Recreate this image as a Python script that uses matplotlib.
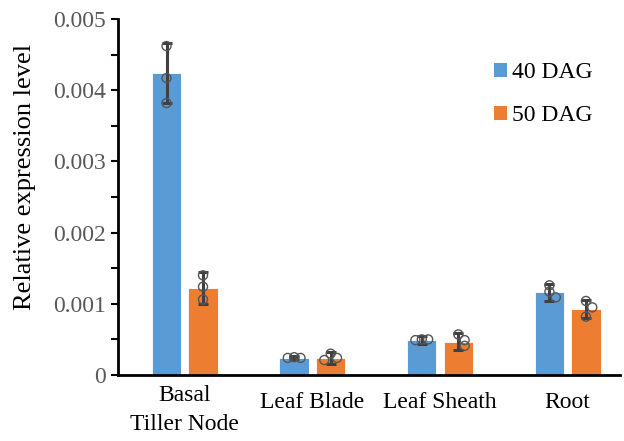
import matplotlib
matplotlib.use("Agg")
import matplotlib.pyplot as plt
from matplotlib.patches import Patch
import numpy as np

categories = ["Basal\nTiller Node", "Leaf Blade", "Leaf Sheath", "Root"]
series_names = ["40 DAG", "50 DAG"]
means_40 = [0.00424, 0.00024, 0.00049, 0.00116]
means_50 = [0.00122, 0.00024, 0.00047, 0.00093]
sd_40 = [0.00042, 0.00002, 0.00006, 0.00012]
sd_50 = [0.00022, 0.00008, 0.00012, 0.00013]
points_40 = [[0.00462, 0.00417, 0.00382],
             [0.00025, 0.00024, 0.00024],
             [0.00050, 0.00050, 0.00049],
             [0.00126, 0.00117, 0.00109]]
points_50 = [[0.00140, 0.00124, 0.00106],
             [0.00030, 0.00024, 0.00021],
             [0.00057, 0.00049, 0.00041],
             [0.00104, 0.00095, 0.00082]]
y_ticks = [0, 0.001, 0.002, 0.003, 0.004, 0.005]
y_tick_labels = ["0", "0.001", "0.002", "0.003", "0.004", "0.005"]

plt.rcParams['font.family'] = ['Liberation Serif', 'DejaVu Serif']

W, H = 624, 441
fig = plt.figure(figsize=(W / 100, H / 100), dpi=100)
ax = fig.add_axes([118 / W, 1 - 375 / H, (620 - 118) / W, (375 - 19) / H])

colors = ["#5B9BD5", "#ED7D31"]
x = np.arange(len(categories))
offset = 0.143
width = 0.23
ax.set_xlim(-0.523, 3.41)
ax.set_ylim(0, 0.005)

def swarm(vals, center):
    # simple dodge: points close in value get spread horizontally
    xs = []
    placed = []
    for v in vals:
        dx = 0.0
        close = [p for p in placed if abs(p[1] - v) < 0.00009]
        if close:
            n = len(close)
            dx = 0.05 * (1 if n % 2 == 1 else -1) * ((n + 1) // 2)
        placed.append((dx, v))
        xs.append(center + dx)
    return xs

for i, (means, sds, pts) in enumerate([(means_40, sd_40, points_40), (means_50, sd_50, points_50)]):
    pos = x + (-offset if i == 0 else offset)
    ax.bar(pos, means, width=width, color=colors[i], edgecolor="white", linewidth=0.6, zorder=2)
    ax.errorbar(pos, means, yerr=sds, fmt="none", ecolor="#404040", elinewidth=2.2,
                capsize=3.5, capthick=2.2, zorder=3)
    for j, p in enumerate(pts):
        xs = swarm(p, pos[j])
        ax.scatter(xs, p, s=42, facecolors="none", edgecolors="#555555", linewidths=1.0, zorder=4)

ax.spines["top"].set_visible(False)
ax.spines["right"].set_visible(False)
ax.spines["left"].set_linewidth(2)
ax.spines["bottom"].set_linewidth(2)

ax.set_yticks(y_ticks)
ax.set_yticklabels(y_tick_labels, color="#595959", fontsize=17)
ax.set_yticks(np.arange(0.0005, 0.005, 0.001), minor=True)
ax.tick_params(axis="y", which="both", direction="out", length=5, width=1.5, color="black", pad=4)

ax.set_xticks(x)
ax.set_xticklabels([""] * len(categories))
ax.tick_params(axis="x", length=0)
for xi, cat in zip(x, categories):
    n_lines = cat.count("\n") + 1
    dy = -28 - 7 * (n_lines - 1)
    ax.annotate(cat, xy=(xi, 0), xycoords=("data", "axes fraction"),
                xytext=(0, dy), textcoords="offset pixels",
                ha="center", va="center", fontsize=17, color="black",
                linespacing=1.45, annotation_clip=False)

fig.text(25 / W, 1 - 177 / H, "Relative expression level", rotation=90,
         fontsize=19, va="center", ha="center", color="black")

handles = [Patch(facecolor=c, edgecolor="none") for c in colors]
ax.legend(handles, series_names, loc="upper left", bbox_to_anchor=(494 / W, 1 - 62 / H),
          bbox_transform=fig.transFigure, frameon=False, fontsize=17,
          handlelength=0.55, handleheight=0.55, handletextpad=0.2, labelspacing=0.95,
          borderaxespad=0, borderpad=0)

fig.savefig("out.png", dpi=100)
